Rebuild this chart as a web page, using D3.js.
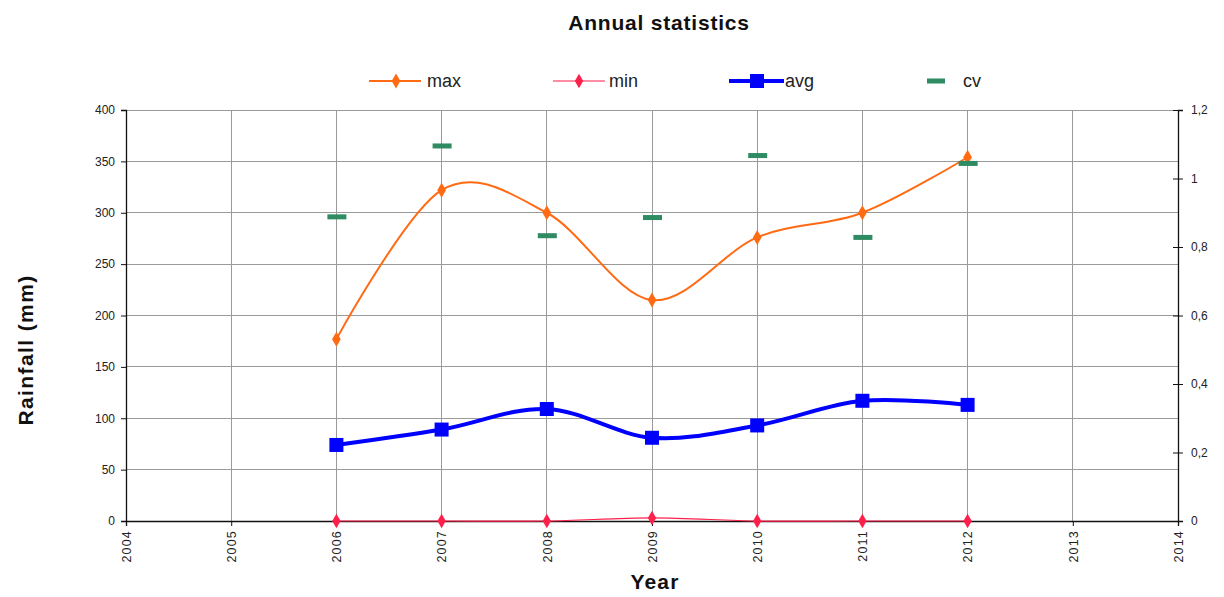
<!DOCTYPE html>
<html>
<head>
<meta charset="utf-8">
<script src="https://cdn.jsdelivr.net/npm/d3@7"></script>
<style>
  html, body { margin: 0; padding: 0; background: #fff; }
  svg { display: block; font-family: "Liberation Sans", Arial, sans-serif; }
</style>
</head>
<body>
<svg id="chart" width="1224" height="597"></svg>
<script>
// Annual rainfall statistics
const years = [2006, 2007, 2008, 2009, 2010, 2011, 2012];
const maxVals = [177, 322, 300, 215, 276, 300, 354];
const minVals = [0, 0, 0, 3, 0, 0, 0];
const avgVals = [74, 89, 109, 81, 93, 117, 113];
const cvVals = [0.888, 1.095, 0.833, 0.886, 1.067, 0.828, 1.044];

const xTicks = [2004, 2005, 2006, 2007, 2008, 2009, 2010, 2011, 2012, 2013, 2014];
const yTicks = [0, 50, 100, 150, 200, 250, 300, 350, 400];
const y2Ticks = [0, 0.2, 0.4, 0.6, 0.8, 1, 1.2];

const colMax = "#ff6a13", colMin = "#ff1f4b", colAvg = "#0000ff", colCv = "#2e8b62";

const svg = d3.select("#chart");
const m = { left: 126, right: 1178, top: 110, bottom: 521 };

const x = d3.scaleLinear().domain([2004, 2014]).range([m.left, m.right]);
const y = d3.scaleLinear().domain([0, 400]).range([m.bottom, m.top]);
const y2 = d3.scaleLinear().domain([0, 1.2]).range([m.bottom, m.top]);

// gridlines
const grid = svg.append("g").attr("stroke", "#9a9a9a").attr("stroke-width", 1).attr("shape-rendering", "crispEdges");
grid.selectAll("line.v").data(xTicks.slice(1, -1)).join("line")
  .attr("x1", d => x(d)).attr("x2", d => x(d)).attr("y1", m.top).attr("y2", m.bottom);
grid.selectAll("line.h").data(yTicks.slice(1)).join("line")
  .attr("x1", m.left).attr("x2", m.right).attr("y1", d => y(d)).attr("y2", d => y(d));

// axes
const fmtComma = d => String(d).replace(".", ",");
const axL = svg.append("g").attr("transform", `translate(${m.left},0)`)
  .call(d3.axisLeft(y).tickValues(yTicks).tickSize(5).tickPadding(6));
const axR = svg.append("g").attr("transform", `translate(${m.right},0)`)
  .call(d3.axisRight(y2).tickValues(y2Ticks).tickSize(5).tickPadding(8).tickFormat(fmtComma));
const axB = svg.append("g").attr("transform", `translate(0,${m.bottom})`)
  .call(d3.axisBottom(x).tickValues(xTicks).tickSize(5).tickFormat(d3.format("d")));
axR.selectAll(".tick line").attr("x1", -5);

[axL, axR, axB].forEach(a => {
  a.select(".domain").attr("stroke", "#111").attr("stroke-width", 1.3);
  a.selectAll(".tick line").attr("stroke", "#111");
  a.selectAll("text").attr("fill", "#222").style("font-size", "12px").style("font-family", "Liberation Sans, Arial, sans-serif");
});
axB.selectAll("text")
  .attr("transform", "rotate(-90)")
  .attr("text-anchor", "end")
  .attr("x", -9).attr("y", 0).attr("dy", "0.35em")
  .style("font-size", "12.5px").style("letter-spacing", "1.2px");

// series
const smooth = d3.line().curve(d3.curveCatmullRom.alpha(0));

function drawLine(vals, scale, color, width) {
  svg.append("path")
    .datum(years.map((yr, i) => [x(yr), scale(vals[i])]))
    .attr("d", smooth)
    .attr("fill", "none").attr("stroke", color).attr("stroke-width", width);
}
const diamond = d3.symbol().type(d3.symbolDiamond);

drawLine(minVals, y, colMin, 1.2);
drawLine(maxVals, y, colMax, 2);
drawLine(avgVals, y, colAvg, 4);

svg.append("g").selectAll("path").data(years).join("path")
  .attr("transform", (d, i) => `translate(${x(d)},${y(minVals[i])})`)
  .attr("d", diamond.size(60)).attr("fill", colMin);
svg.append("g").selectAll("path").data(years).join("path")
  .attr("transform", (d, i) => `translate(${x(d)},${y(maxVals[i])})`)
  .attr("d", diamond.size(65)).attr("fill", colMax);
svg.append("g").selectAll("rect").data(years).join("rect")
  .attr("x", d => x(d) - 7).attr("y", (d, i) => y(avgVals[i]) - 7)
  .attr("width", 14).attr("height", 14).attr("fill", colAvg);
svg.append("g").selectAll("rect").data(years).join("rect")
  .attr("x", d => x(d) - 9).attr("y", (d, i) => y2(cvVals[i]) - 2.5)
  .attr("width", 19).attr("height", 5).attr("fill", colCv);

// legend
const lg = svg.append("g").style("font-size", "18px").attr("fill", "#222");
const ly = 81;
lg.append("line").attr("x1", 369).attr("x2", 421).attr("y1", ly).attr("y2", ly).attr("stroke", colMax).attr("stroke-width", 2);
lg.append("path").attr("transform", `translate(396,${ly})`).attr("d", diamond.size(65)).attr("fill", colMax);
lg.append("text").attr("x", 427).attr("y", 87).text("max");
lg.append("line").attr("x1", 553).attr("x2", 605).attr("y1", ly).attr("y2", ly).attr("stroke", colMin).attr("stroke-width", 1.2);
lg.append("path").attr("transform", `translate(579,${ly})`).attr("d", diamond.size(60)).attr("fill", colMin);
lg.append("text").attr("x", 609).attr("y", 87).text("min");
lg.append("line").attr("x1", 729).attr("x2", 784).attr("y1", ly).attr("y2", ly).attr("stroke", colAvg).attr("stroke-width", 4);
lg.append("rect").attr("x", 750).attr("y", ly - 7).attr("width", 14).attr("height", 14).attr("fill", colAvg);
lg.append("text").attr("x", 785).attr("y", 87).text("avg");
lg.append("rect").attr("x", 927).attr("y", ly - 2.5).attr("width", 18).attr("height", 5).attr("fill", colCv);
lg.append("text").attr("x", 963).attr("y", 87).text("cv");

// titles
svg.append("text").attr("x", 659).attr("y", 30).attr("text-anchor", "middle")
  .style("font-size", "21px").style("font-weight", "bold").style("letter-spacing", "0.8px")
  .attr("fill", "#111").text("Annual statistics");
svg.append("text").attr("transform", "translate(33,350) rotate(-90)").attr("text-anchor", "middle")
  .style("font-size", "21px").style("font-weight", "bold").style("letter-spacing", "1.4px")
  .attr("fill", "#111").text("Rainfall (mm)");
svg.append("text").attr("x", 655).attr("y", 589).attr("text-anchor", "middle")
  .style("font-size", "21px").style("font-weight", "bold").style("letter-spacing", "1.2px")
  .attr("fill", "#111").text("Year");
</script>
</body>
</html>
